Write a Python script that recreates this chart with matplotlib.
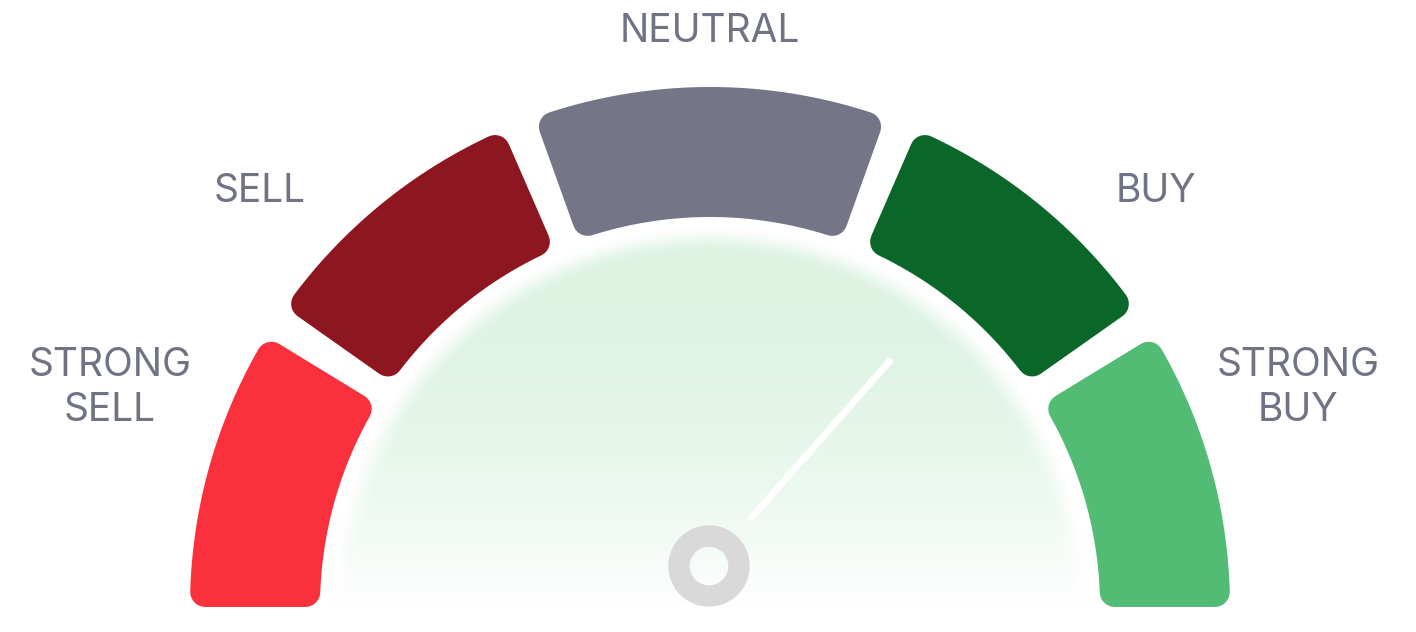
import numpy as np
import matplotlib.pyplot as plt
from matplotlib.patches import Polygon, Wedge

plt.rcParams['font.family'] = ['Inter', 'DejaVu Sans']

# gauge data (0-100 scale)
labels = ['STRONG\nSELL', 'SELL', 'NEUTRAL', 'BUY', 'STRONG\nBUY']
colors = ['#fa303c', '#8e1620', '#747687', '#0a6629', '#52bc74']
breaks = [0, 18.5, 38, 62, 81.5, 100]
needle_value = 73

# layout (pixels, y measured from top)
W, H = 1416, 632
cx, cy = 710, H - 607
r_out, r_in = 520, 390
gap = 2.1
corner = 15
pivot = (709, H - 566)
label_pos = [(110, 388), (260, 192), (710, 32), (1156, 192), (1298, 388)]
text_color = '#6f7383'


def val2ang(v):
    return np.pi * (1 - v / 100.0)


def segment(v0, v1):
    a_hi = val2ang(v0 + (gap / 2 if v0 > 0 else 0))
    a_lo = val2ang(v1 - (gap / 2 if v1 < 100 else 0))
    ro, ri = r_out - corner, r_in + corner
    ho = a_hi - np.arcsin(corner / ro)
    hi = a_hi - np.arcsin(corner / ri)
    lo = a_lo + np.arcsin(corner / ro)
    li = a_lo + np.arcsin(corner / ri)
    t_out = np.linspace(ho, lo, 120)
    t_in = np.linspace(li, hi, 120)
    xs = np.concatenate([cx + ro * np.cos(t_out), cx + ri * np.cos(t_in)])
    ys = np.concatenate([cy + ro * np.sin(t_out), cy + ri * np.sin(t_in)])
    return np.column_stack([xs, ys])


fig = plt.figure(figsize=(W / 100, H / 100), dpi=100)
ax = fig.add_axes([0, 0, 1, 1])
ax.set_xlim(0, W)
ax.set_ylim(0, H)
ax.axis('off')

# soft green glow inside the arc
X, Y = np.meshgrid(np.arange(W) + 0.5, np.arange(H) + 0.5)
d = np.hypot(X - cx, Y - cy)
edge = np.clip((382 - d) / 28, 0, 1)
edge = edge * edge * (3 - 2 * edge)
u = np.clip((Y - cy) / 365, 0, 1)
alpha = edge * (1 - (1 - u) ** 2)
img = np.zeros((H, W, 4))
img[..., 0], img[..., 1], img[..., 2] = 220 / 255, 243 / 255, 226 / 255
img[..., 3] = alpha
ax.imshow(img, extent=(0, W, 0, H), origin='lower', zorder=0, interpolation='bilinear')

lw = 2 * corner * 72 / 100
for i in range(len(labels)):
    poly = Polygon(segment(breaks[i], breaks[i + 1]), closed=True,
                   facecolor=colors[i], edgecolor=colors[i], lw=lw,
                   joinstyle='round', zorder=2)
    ax.add_patch(poly)
    x, y = label_pos[i]
    ax.text(x, H - y, labels[i], ha='center', va='center', fontsize=28,
            color=text_color, linespacing=1.3, zorder=3)

# needle
a = val2ang(needle_value)
ax.plot([pivot[0] + 65 * np.cos(a), pivot[0] + 273 * np.cos(a)],
        [pivot[1] + 65 * np.sin(a), pivot[1] + 273 * np.sin(a)],
        color='white', lw=5, solid_capstyle='round', zorder=4)
ax.add_patch(Wedge(pivot, 40, 0, 360, width=20, color='#d9d9d9', zorder=4))

fig.savefig('out.png', dpi=100, facecolor='white')
